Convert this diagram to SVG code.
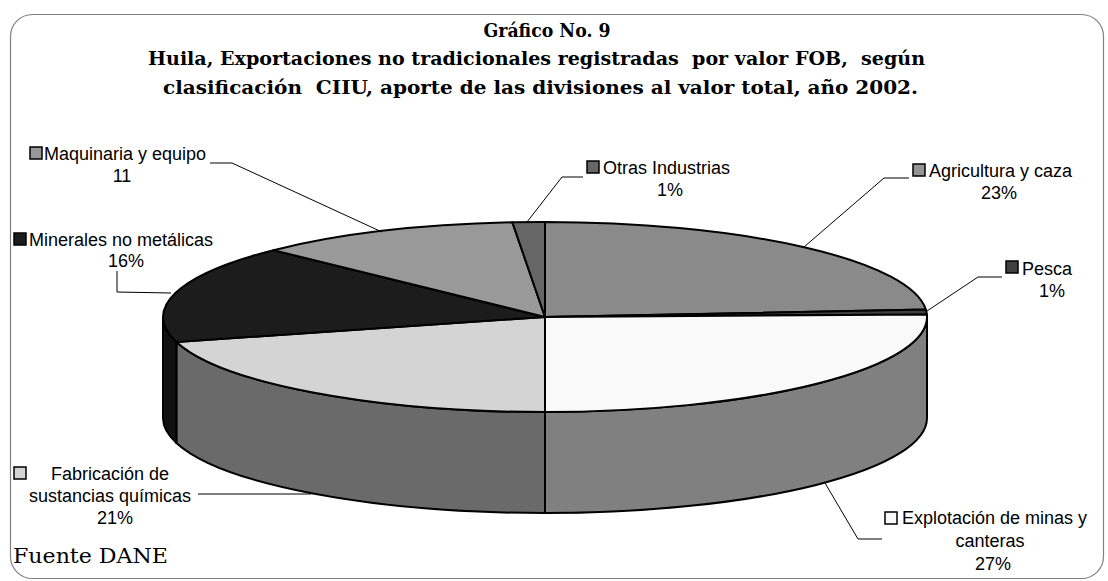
<svg xmlns="http://www.w3.org/2000/svg" width="1108" height="581" viewBox="0 0 1108 581">
<style>
.title{font-family:"DejaVu Serif","Liberation Serif",serif;font-weight:bold;font-size:18px;fill:#000;white-space:pre}
.lbl{font-family:"Liberation Sans",Arial,sans-serif;font-size:18px;fill:#000}
.src{font-family:"DejaVu Serif","Liberation Serif",serif;font-size:20px;fill:#000}
.face{stroke:#000;stroke-width:2;stroke-linejoin:round}
.key{stroke:#000;stroke-width:1.5}
.lead{fill:none;stroke:#000;stroke-width:1}
</style>
<rect x="0" y="0" width="1108" height="581" fill="#fff"/>
<rect x="10.5" y="14.5" width="1093" height="564" rx="22" ry="22" fill="#fff" stroke="#808080" stroke-width="1.2"/>

<g id="title">
<text class="title" x="547" y="37" text-anchor="middle" textLength="127" lengthAdjust="spacingAndGlyphs">Gráfico No. 9</text>
<text class="title" x="536.5" y="65" text-anchor="middle" textLength="777" lengthAdjust="spacingAndGlyphs" xml:space="preserve">Huila, Exportaciones no tradicionales registradas  por valor FOB,  según</text>
<text class="title" x="540.5" y="94" text-anchor="middle" textLength="755" lengthAdjust="spacingAndGlyphs" xml:space="preserve">clasificación  CIIU, aporte de las divisiones al valor total, año 2002.</text>
</g>

<g id="pie">
<g id="walls">
<path class="face" fill="#808080" d="M927,317 A382,95 0 0,1 545,412 L545,513 A382,95 0 0,0 927,418 Z"/>
<path class="face" fill="#6a6a6a" d="M545,412 A382,95 0 0,1 176.4,341.9 L176.4,442.9 A382,95 0 0,0 545,513 Z"/>
<path class="face" fill="#111111" d="M176.4,341.9 A382,95 0 0,1 163,317 L163,418 A382,95 0 0,0 176.4,442.9 Z"/>
</g>
<g id="slice-agricultura"><path class="face" fill="#8a8a8a" d="M545,317 L545,222 A382,95 0 0,1 925.8,309.5 Z"/></g>
<g id="slice-pesca"><path class="face" fill="#404040" d="M545,317 L925.8,309.5 A382,95 0 0,1 926.9,314.5 Z"/></g>
<g id="slice-explotacion"><path class="face" fill="#f9f9f9" d="M545,317 L926.9,314.5 A382,95 0 0,1 545,412 Z"/></g>
<g id="slice-fabricacion"><path class="face" fill="#d4d4d4" d="M545,317 L545,412 A382,95 0 0,1 176.4,341.9 Z"/></g>
<g id="slice-minerales"><path class="face" fill="#1c1c1c" d="M545,317 L176.4,341.9 A382,95 0 0,1 273.5,250.2 Z"/></g>
<g id="slice-maquinaria"><path class="face" fill="#999999" d="M545,317 L273.5,250.2 A382,95 0 0,1 512.4,222.3 Z"/></g>
<g id="slice-otras"><path class="face" fill="#666666" d="M545,317 L512.4,222.3 A382,95 0 0,1 545,222 Z"/></g>
</g>

<g id="connectors">
<polyline class="lead" points="210,163 232,163 382,232"/>
<polyline class="lead" points="117,271 117,292 171,293"/>
<polyline class="lead" points="583,177 562,177 527,222"/>
<polyline class="lead" points="909,178 884,178 804,247"/>
<polyline class="lead" points="1002,277 978,277 927,311"/>
<polyline class="lead" points="882,539 858,539 825,483"/>
<polyline class="lead" points="198,494 311,494"/>
</g>

<g id="label-maquinaria">
<rect class="key" x="30" y="147" width="12" height="12" fill="#999999"/>
<text class="lbl" x="44" y="160">Maquinaria y equipo</text>
<text class="lbl" x="122" y="182" text-anchor="middle">11</text>
</g>
<g id="label-minerales">
<rect class="key" x="14" y="233" width="12" height="12" fill="#1c1c1c"/>
<text class="lbl" x="29" y="246">Minerales no metálicas</text>
<text class="lbl" x="126" y="267" text-anchor="middle">16%</text>
</g>
<g id="label-otras">
<rect class="key" x="587" y="161" width="12" height="12" fill="#666666"/>
<text class="lbl" x="603" y="174">Otras Industrias</text>
<text class="lbl" x="670" y="196" text-anchor="middle">1%</text>
</g>
<g id="label-agricultura">
<rect class="key" x="913" y="164" width="12" height="12" fill="#959595"/>
<text class="lbl" x="929" y="177">Agricultura y caza</text>
<text class="lbl" x="999" y="199" text-anchor="middle">23%</text>
</g>
<g id="label-pesca">
<rect class="key" x="1006" y="261" width="12" height="12" fill="#404040"/>
<text class="lbl" x="1022" y="275">Pesca</text>
<text class="lbl" x="1052" y="297" text-anchor="middle">1%</text>
</g>
<g id="label-explotacion">
<rect class="key" x="885" y="512" width="12" height="12" fill="#f9f9f9"/>
<text class="lbl" x="902" y="524">Explotación de minas y</text>
<text class="lbl" x="990" y="547" text-anchor="middle">canteras</text>
<text class="lbl" x="993" y="570" text-anchor="middle">27%</text>
</g>
<g id="label-fabricacion">
<rect class="key" x="14" y="467" width="12" height="12" fill="#d4d4d4"/>
<text class="lbl" x="110" y="480" text-anchor="middle">Fabricación de</text>
<text class="lbl" x="110" y="502" text-anchor="middle">sustancias químicas</text>
<text class="lbl" x="115" y="524" text-anchor="middle">21%</text>
</g>
<g id="source">
<text class="src" x="13" y="563" textLength="155" lengthAdjust="spacingAndGlyphs">Fuente DANE</text>
</g>
</svg>
